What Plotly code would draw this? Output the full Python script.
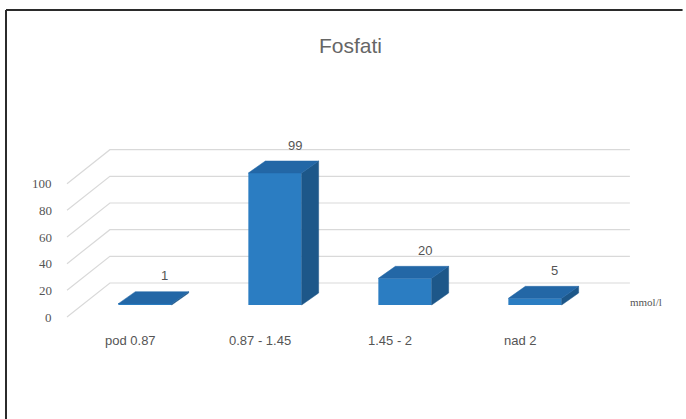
import plotly.graph_objects as go

# Fosfati: number of samples per phosphate concentration range (mmol/l)
categories = ["pod 0.87", "0.87 - 1.45", "1.45 - 2", "nad 2"]
counts = [1, 99, 20, 5]
y_ticks = [0, 20, 40, 60, 80, 100]
unit_label = "mmol/l"
title_text = "Fosfati"

# figure geometry
W, H = 686, 419
PX_X = 130.0          # pixels per category step
PX_Y = 4.0 / 3.0      # pixels per count unit
X0_PX, Y0_PX = 145.0, 305.0   # pixel position of first bar front / zero level

BAR_W = 0.41          # bar width in category units
DEPTH_DX = 17 / PX_X  # oblique depth of a bar
DEPTH_DY = 12 / PX_Y
FLOOR_FRONT = (-0.6, -9.0)    # front offset of the wall/floor from bar fronts
FLOOR_BACK = (-0.27, 16.5)    # back wall offset
WALL_RIGHT = 3.73

FRONT = "#2b7dc2"
TOP = "#2367a6"
SIDE = "#1d5789"
GRID = "#d9d9d9"
TEXT = "#555555"

x_range = [(0 - X0_PX) / PX_X, (W - X0_PX) / PX_X]
y_range = [(Y0_PX - H) / PX_Y, Y0_PX / PX_Y]

fig = go.Figure()

shapes = []
# gridlines below the columns: side wall diagonals and back wall horizontals
for t in y_ticks:
    shapes.append(dict(
        type="path", layer="below", xref="x", yref="y",
        path=(f"M {FLOOR_FRONT[0]},{t + FLOOR_FRONT[1]} "
              f"L {FLOOR_BACK[0]},{t + FLOOR_BACK[1]} "
              f"L {WALL_RIGHT},{t + FLOOR_BACK[1]}"),
        line=dict(color=GRID, width=1.2)))

# 3D columns: side face, top face, then the front face as a bar
for i, v in enumerate(counts):
    xl, xr = i - BAR_W / 2, i + BAR_W / 2
    fig.add_trace(go.Scatter(
        x=[xr, xr, xr + DEPTH_DX, xr + DEPTH_DX, xr],
        y=[0, v, v + DEPTH_DY, DEPTH_DY, 0],
        fill="toself", fillcolor=SIDE, mode="lines",
        line=dict(color=SIDE, width=0.5), hoverinfo="skip", showlegend=False))
    fig.add_trace(go.Scatter(
        x=[xl, xr, xr + DEPTH_DX, xl + DEPTH_DX, xl],
        y=[v, v, v + DEPTH_DY, v + DEPTH_DY, v],
        fill="toself", fillcolor=TOP, mode="lines",
        line=dict(color=TOP, width=0.5), hoverinfo="skip", showlegend=False))

fig.add_trace(go.Bar(
    x=list(range(len(counts))), y=counts, width=BAR_W,
    marker=dict(color=FRONT, line=dict(width=0)),
    hoverinfo="skip", showlegend=False))

annotations = []
# value labels above each column
for i, v in enumerate(counts):
    annotations.append(dict(
        x=i + 0.15, y=v + DEPTH_DY + 12, text=str(v), showarrow=False,
        font=dict(size=13, color=TEXT, family="Liberation Sans"),
        xanchor="center", yanchor="middle"))
# category labels along the front of the floor
for i, c in enumerate(categories):
    annotations.append(dict(
        x=i - 0.115, y=-26.3, text=c, showarrow=False,
        font=dict(size=13, color=TEXT, family="Liberation Sans"),
        xanchor="center", yanchor="middle"))
# value axis labels at the front edge of the side wall
for t in y_ticks:
    annotations.append(dict(
        x=FLOOR_FRONT[0] - 0.1, y=t + FLOOR_FRONT[1], text=str(t), showarrow=False,
        font=dict(size=13, color=TEXT, family="Liberation Serif"),
        xanchor="right", yanchor="middle"))
# depth axis label
annotations.append(dict(
    x=3.85, y=2.3, text=unit_label, showarrow=False,
    font=dict(size=11, color=TEXT, family="Liberation Serif"),
    xanchor="center", yanchor="middle"))
# title
annotations.append(dict(
    x=350 / W, y=1 - 45 / H, xref="paper", yref="paper", text=title_text,
    showarrow=False, font=dict(size=21, color="#666666", family="Liberation Sans"),
    xanchor="center", yanchor="middle"))

# frame lines along the top and left edges
shapes += [
    dict(type="line", xref="paper", yref="paper",
         x0=6 / W, x1=0.995, y0=1 - 10 / H, y1=1 - 10 / H,
         line=dict(color="#2b2b2b", width=2)),
    dict(type="line", xref="paper", yref="paper",
         x0=6 / W, x1=6 / W, y0=0, y1=1 - 10 / H,
         line=dict(color="#2b2b2b", width=2)),
]

fig.update_layout(
    width=W, height=H,
    margin=dict(l=0, r=0, t=0, b=0),
    paper_bgcolor="white", plot_bgcolor="white",
    xaxis=dict(range=x_range, visible=False, fixedrange=True),
    yaxis=dict(range=y_range, visible=False, fixedrange=True),
    annotations=annotations,
    shapes=shapes,
)

fig.write_html("out.html", config={"displayModeBar": False})
